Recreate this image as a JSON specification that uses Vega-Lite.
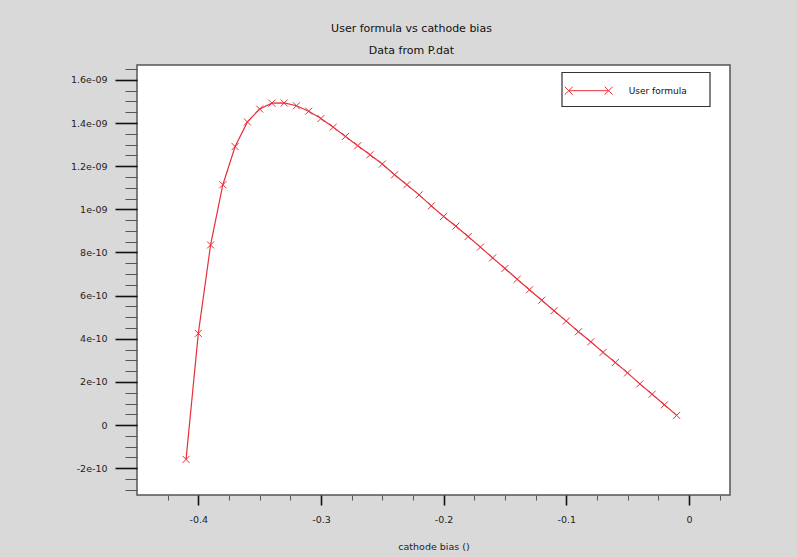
{
  "$schema": "https://vega.github.io/schema/vega-lite/v6.json",
  "width": 593,
  "height": 430,
  "autosize": {"type": "none"},
  "padding": {"left": 137, "top": 65, "right": 67, "bottom": 62},
  "background": "#d9d9d9",
  "title": {
    "text": "User formula vs cathode bias",
    "subtitle": "Data from P.dat",
    "anchor": "middle",
    "dx": -22,
    "offset": 8,
    "font": "DejaVu Sans",
    "fontSize": 11,
    "fontWeight": "normal",
    "color": "#111111",
    "subtitleFont": "DejaVu Sans",
    "subtitleFontSize": 11,
    "subtitleColor": "#111111",
    "subtitlePadding": 11
  },
  "data": {
    "values": [
      {"bias": -0.41, "value": -1.59e-10, "series": "User formula"},
      {"bias": -0.40, "value": 4.25e-10, "series": "User formula"},
      {"bias": -0.39, "value": 8.35e-10, "series": "User formula"},
      {"bias": -0.38, "value": 1.114e-9, "series": "User formula"},
      {"bias": -0.37, "value": 1.291e-9, "series": "User formula"},
      {"bias": -0.36, "value": 1.405e-9, "series": "User formula"},
      {"bias": -0.35, "value": 1.465e-9, "series": "User formula"},
      {"bias": -0.34, "value": 1.492e-9, "series": "User formula"},
      {"bias": -0.33, "value": 1.493e-9, "series": "User formula"},
      {"bias": -0.32, "value": 1.480e-9, "series": "User formula"},
      {"bias": -0.31, "value": 1.455e-9, "series": "User formula"},
      {"bias": -0.30, "value": 1.421e-9, "series": "User formula"},
      {"bias": -0.29, "value": 1.381e-9, "series": "User formula"},
      {"bias": -0.28, "value": 1.338e-9, "series": "User formula"},
      {"bias": -0.27, "value": 1.295e-9, "series": "User formula"},
      {"bias": -0.26, "value": 1.253e-9, "series": "User formula"},
      {"bias": -0.25, "value": 1.210e-9, "series": "User formula"},
      {"bias": -0.24, "value": 1.160e-9, "series": "User formula"},
      {"bias": -0.23, "value": 1.114e-9, "series": "User formula"},
      {"bias": -0.22, "value": 1.067e-9, "series": "User formula"},
      {"bias": -0.21, "value": 1.016e-9, "series": "User formula"},
      {"bias": -0.20, "value": 9.67e-10, "series": "User formula"},
      {"bias": -0.19, "value": 9.22e-10, "series": "User formula"},
      {"bias": -0.18, "value": 8.74e-10, "series": "User formula"},
      {"bias": -0.17, "value": 8.25e-10, "series": "User formula"},
      {"bias": -0.16, "value": 7.75e-10, "series": "User formula"},
      {"bias": -0.15, "value": 7.26e-10, "series": "User formula"},
      {"bias": -0.14, "value": 6.76e-10, "series": "User formula"},
      {"bias": -0.13, "value": 6.27e-10, "series": "User formula"},
      {"bias": -0.12, "value": 5.79e-10, "series": "User formula"},
      {"bias": -0.11, "value": 5.30e-10, "series": "User formula"},
      {"bias": -0.10, "value": 4.82e-10, "series": "User formula"},
      {"bias": -0.09, "value": 4.33e-10, "series": "User formula"},
      {"bias": -0.08, "value": 3.86e-10, "series": "User formula"},
      {"bias": -0.07, "value": 3.37e-10, "series": "User formula"},
      {"bias": -0.06, "value": 2.90e-10, "series": "User formula"},
      {"bias": -0.05, "value": 2.42e-10, "series": "User formula"},
      {"bias": -0.04, "value": 1.91e-10, "series": "User formula"},
      {"bias": -0.03, "value": 1.43e-10, "series": "User formula"},
      {"bias": -0.02, "value": 9.4e-11, "series": "User formula"},
      {"bias": -0.01, "value": 4.5e-11, "series": "User formula"}
    ]
  },
  "encoding": {
    "x": {
      "field": "bias",
      "type": "quantitative",
      "scale": {"domain": [-0.45, 0.0335], "nice": false, "zero": false},
      "axis": {
        "values": [-0.425, -0.4, -0.375, -0.35, -0.325, -0.3, -0.275, -0.25, -0.225, -0.2, -0.175, -0.15, -0.125, -0.1, -0.075, -0.05, -0.025, 0, 0.025],
        "domain": false,
        "grid": false,
        "tickSize": {"condition": {"test": "abs(datum.value*10 - round(datum.value*10)) < 0.01", "value": 10}, "value": 5},
        "tickWidth": {"condition": {"test": "abs(datum.value*10 - round(datum.value*10)) < 0.01", "value": 1.6}, "value": 1},
        "tickColor": {"condition": {"test": "abs(datum.value*10 - round(datum.value*10)) < 0.01", "value": "#111111"}, "value": "#555555"},
        "labelExpr": "abs(datum.value*10 - round(datum.value*10)) < 0.01 ? replace(format(datum.value, '~g'), '\u2212', '-') : ''",
        "labelPadding": 9,
        "labelFont": "DejaVu Sans",
        "labelFontSize": 9.5,
        "labelColor": "#222222",
        "labelOverlap": false,
        "labelFlush": false,
        "title": "cathode bias ()",
        "titleFont": "DejaVu Sans",
        "titleFontSize": 9.5,
        "titleFontWeight": "normal",
        "titleColor": "#222222",
        "titlePadding": 18
      }
    },
    "y": {
      "field": "value",
      "type": "quantitative",
      "scale": {"domain": [-3.24e-10, 1.669e-9], "nice": false, "zero": false},
      "axis": {
        "values": [-3e-10, -2.5e-10, -2e-10, -1.5e-10, -1e-10, -5e-11, 0, 5e-11, 1e-10, 1.5e-10, 2e-10, 2.5e-10, 3e-10, 3.5e-10, 4e-10, 4.5e-10, 5e-10, 5.5e-10, 6e-10, 6.5e-10, 7e-10, 7.5e-10, 8e-10, 8.5e-10, 9e-10, 9.5e-10, 1e-9, 1.05e-9, 1.1e-9, 1.15e-9, 1.2e-9, 1.25e-9, 1.3e-9, 1.35e-9, 1.4e-9, 1.45e-9, 1.5e-9, 1.55e-9, 1.6e-9, 1.65e-9],
        "domain": false,
        "grid": false,
        "tickSize": {"condition": {"test": "abs(datum.value*5e9 - round(datum.value*5e9)) < 0.01", "value": 22}, "value": 12},
        "tickWidth": {"condition": {"test": "abs(datum.value*5e9 - round(datum.value*5e9)) < 0.01", "value": 1.6}, "value": 1},
        "tickColor": {"condition": {"test": "abs(datum.value*5e9 - round(datum.value*5e9)) < 0.01", "value": "#111111"}, "value": "#555555"},
        "labelExpr": "abs(datum.value*5e9 - round(datum.value*5e9)) < 0.01 ? (datum.value == 0 ? '0' : replace(replace(format(datum.value, '~e'), '\u2212', '-'), regexp('e-([0-9])$'), 'e-0$1')) : ''",
        "labelPadding": 8,
        "labelFont": "DejaVu Sans",
        "labelFontSize": 9.5,
        "labelColor": "#222222",
        "labelOverlap": false,
        "labelFlush": false,
        "title": null
      }
    },
    "color": {
      "field": "series",
      "type": "nominal",
      "scale": {"range": ["#e8303a"]},
      "legend": {
        "title": null,
        "orient": "none",
        "legendX": 424.7,
        "legendY": 7.2,
        "padding": 9.5,
        "strokeColor": "#333333",
        "fillColor": "white",
        "symbolType": "M-2.35,0L2.35,0M-2.82,-0.47L-1.88,0.47M-2.82,0.47L-1.88,-0.47M1.88,-0.47L2.82,0.47M1.88,0.47L2.82,-0.47",
        "symbolSize": 289,
        "symbolStrokeWidth": 1,
        "symbolStrokeColor": "#e8303a",
        "symbolFillColor": "transparent",
        "symbolOffset": 8.5,
        "labelOffset": 31,
        "labelFont": "DejaVu Sans",
        "labelFontSize": 9,
        "labelColor": "#111111",
        "labelExpr": "datum.label + '\u2800\u2800'"
      }
    }
  },
  "layer": [
    {"mark": {"type": "line", "strokeWidth": 1.2}},
    {"mark": {"type": "point", "shape": "M-1,-1L1,1M-1,1L1,-1", "filled": false, "size": 49, "strokeWidth": 1, "opacity": 1}}
  ],
  "config": {
    "view": {"fill": "white", "stroke": "#555555", "strokeWidth": 1.5},
    "legend": {"strokeWidth": 1.2}
  }
}
